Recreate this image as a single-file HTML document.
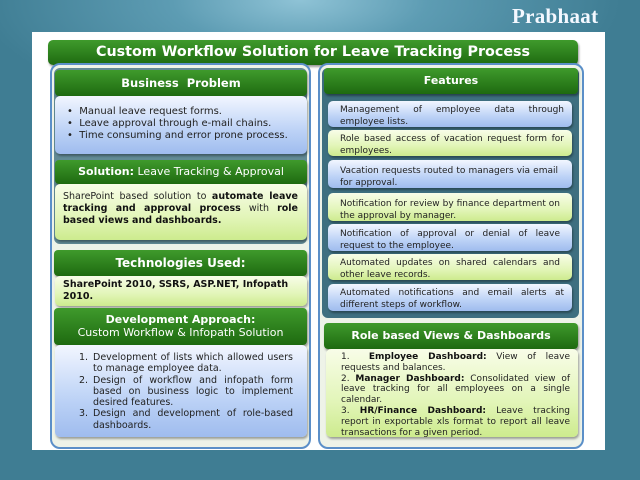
<!DOCTYPE html>
<html><head><style>
*{margin:0;padding:0;box-sizing:border-box}
body{width:640px;height:480px;overflow:hidden;position:relative;font-family:"DejaVu Sans","Liberation Sans",sans-serif;
background:radial-gradient(ellipse 320px 120px at 300px 0px,#8fc3d6 0%,#5d9cb3 40%,#3f7d93 100%);background-color:#3f7d93}
.a{position:absolute}
.logo{left:512px;top:4px;color:#f4f8ff;font-family:"Liberation Serif",serif;font-size:21px;font-weight:bold;letter-spacing:0.3px}
.panel{left:32px;top:32px;width:573px;height:418px;background:#fff}
.gh{background:linear-gradient(#3f9a2c,#1e6a10);color:#fff;font-weight:bold;text-align:center;border-radius:4px;box-shadow:1px 2px 2px rgba(0,0,0,.4)}
.blue{background:linear-gradient(#f2f6ff,#bcd2f6 60%,#9fbcee);border-radius:5px;box-shadow:1px 2px 2px rgba(0,0,0,.35);font-size:9px;color:#222}
.green{background:linear-gradient(#f8fde8,#e2f5b8 60%,#cdeb8e);border-radius:5px;box-shadow:1px 2px 2px rgba(0,0,0,.35);font-size:9px;color:#222}
.it{padding:3px 8px 0 12px;line-height:12px;text-align:justify}
b{color:#111}
</style></head><body>
<div class="a logo">Prabhaat</div>
<div class="a panel"></div>
<div class="a gh" style="left:48px;top:40px;width:530px;height:25px;font-size:14.3px;line-height:25px;border-radius:5px">Custom Workflow Solution for Leave Tracking Process</div>

<div class="a" style="left:50px;top:63px;width:261px;height:386px;border:2px solid #5b8fc8;border-radius:10px;background:#eef3e8"></div>
<div class="a" style="left:54px;top:68px;width:253px;height:176px;background:#3e6f80;border-radius:6px;opacity:.8"></div>
<div class="a gh" style="left:55px;top:70px;width:252px;height:26px;font-size:11.5px;line-height:26px">Business&nbsp; Problem</div>
<div class="a blue" style="left:55px;top:96px;width:252px;height:58px;padding:10px 0 0 12px;line-height:12px;font-size:10px">
• &nbsp;Manual leave request forms.<br>• &nbsp;Leave approval through e-mail chains.<br>• &nbsp;Time consuming and error prone process.</div>
<div class="a gh" style="left:55px;top:160px;width:252px;height:24px;font-size:11px;line-height:24px;font-weight:normal"><b style="color:#fff">Solution:</b> Leave Tracking &amp; Approval</div>
<div class="a green" style="left:55px;top:184px;width:252px;height:56px;padding:7px 9px 0 8px;line-height:12px;text-align:justify;font-size:9.5px">SharePoint based solution to <b>automate leave tracking and approval process</b> with <b>role based views and dashboards.</b></div>

<div class="a gh" style="left:54px;top:250px;width:253px;height:26px;font-size:12px;line-height:26px">Technologies Used:</div>
<div class="a green" style="left:55px;top:276px;width:252px;height:30px;padding:3px 8px;line-height:12px;font-size:9.5px"><b>SharePoint 2010, SSRS, ASP.NET, Infopath 2010.</b></div>
<div class="a gh" style="left:54px;top:308px;width:253px;height:37px;font-size:11px;line-height:13px;padding-top:5px">Development Approach:<br><span style="font-weight:normal">Custom Workflow &amp; Infopath Solution</span></div>
<div class="a blue" style="left:55px;top:345px;width:252px;height:92px;padding:7px 14px 0 24px;line-height:11.3px;text-align:justify;font-size:9.5px">
<div style="display:flex"><span style="width:14px">1.</span><span style="flex:1">Development of lists which allowed users to manage employee data.</span></div>
<div style="display:flex"><span style="width:14px">2.</span><span style="flex:1">Design of workflow and infopath form based on business logic to implement desired features.</span></div>
<div style="display:flex"><span style="width:14px">3.</span><span style="flex:1">Design and development of role-based dashboards.</span></div></div>

<div class="a" style="left:318px;top:63px;width:266px;height:386px;border:2px solid #5b8fc8;border-radius:10px;background:#eef3e8"></div>
<div class="a" style="left:322px;top:68px;width:257px;height:250px;background:#3e6f80;border-radius:6px"></div>
<div class="a gh" style="left:324px;top:68px;width:254px;height:26px;font-size:11px;line-height:26px">Features</div>
<div class="a blue it" style="left:328px;top:101px;width:244px;height:26px">Management of employee data through employee lists.</div>
<div class="a green it" style="left:328px;top:130px;width:244px;height:26px">Role based access of vacation request form for employees.</div>
<div class="a blue it" style="left:328px;top:160px;width:244px;height:28px;padding-top:5px;padding-right:14px">Vacation requests routed to managers via email for approval.</div>
<div class="a green it" style="left:328px;top:193px;width:244px;height:28px;padding-top:5px;padding-right:12px">Notification for review by finance department on the approval by manager.</div>
<div class="a blue it" style="left:328px;top:224px;width:244px;height:27px;padding-top:4px;padding-right:12px">Notification of approval or denial of leave request to the employee.</div>
<div class="a green it" style="left:328px;top:254px;width:244px;height:26px;padding-right:12px">Automated updates on shared calendars and other leave records.</div>
<div class="a blue it" style="left:328px;top:284px;width:244px;height:27px">Automated notifications and email alerts at different steps of workflow.</div>
<div class="a gh" style="left:324px;top:323px;width:254px;height:26px;font-size:11px;line-height:26px">Role based Views &amp; Dashboards</div>
<div class="a green" style="left:326px;top:349px;width:252px;height:88px;padding:3px 8px 0 15px;line-height:10.8px;text-align:justify">
1. &nbsp;<b>Employee Dashboard:</b> View of leave requests and balances.<br>2. <b>Manager Dashboard:</b> Consolidated view of leave tracking for all employees on a single calendar.<br>3. <b>HR/Finance Dashboard:</b> Leave tracking report in exportable xls format to report all leave transactions for a given period.</div>
</body></html>
